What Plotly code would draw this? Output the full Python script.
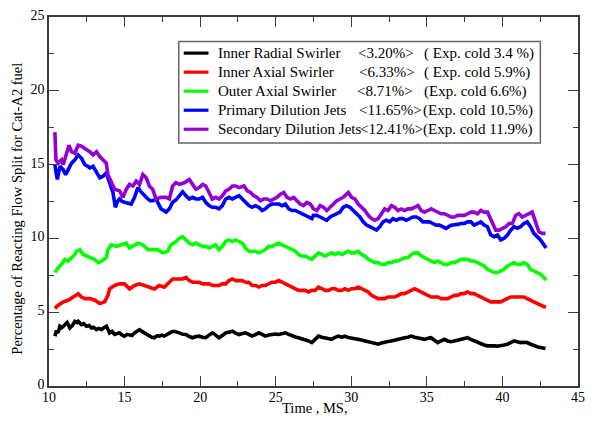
import plotly.graph_objects as go

# ---- Reacting flow split (%) vs. time (ms), Cat-A2 fuel ----
inner_radial_t = [10.39, 10.5, 10.6, 10.72, 10.85, 11.05, 11.2, 11.38, 11.55, 11.71, 11.85, 11.93, 12.05, 12.15, 12.3,
                  12.48, 12.65, 12.81, 12.95, 13.14, 13.3, 13.47, 13.62, 13.8, 13.92, 14.01, 14.17, 14.34, 14.5, 14.67,
                  14.84, 15.0, 15.17, 15.33, 15.5, 15.66, 15.83, 15.99, 16.15, 16.32, 16.48, 16.64, 16.8, 16.97, 17.14,
                  17.3, 17.47, 17.63, 17.8, 17.96, 18.13, 18.29, 18.46, 18.62, 18.84, 19.06, 19.28, 19.5, 19.72, 19.94,
                  20.16, 20.37, 20.59, 20.81, 21.03, 21.25, 21.47, 21.69, 21.91, 22.13, 22.35, 22.57, 22.79, 23.0,
                  23.22, 23.44, 23.66, 23.88, 24.1, 24.32, 24.54, 24.76, 24.98, 25.2, 25.42, 25.64, 25.86, 26.08,
                  26.3, 26.51, 26.73, 26.95, 27.17, 27.39, 27.61, 27.83, 28.05, 28.27, 28.49, 28.71, 28.93, 29.15,
                  29.37, 29.58, 29.8, 30.02, 30.24, 30.46, 30.68, 30.9, 31.12, 31.34, 31.56, 31.78, 32.0, 32.21,
                  32.43, 32.65, 32.87, 33.09, 33.31, 33.53, 33.75, 33.97, 34.19, 34.41, 34.63, 34.85, 35.07, 35.28,
                  35.5, 35.72, 35.94, 36.16, 36.38, 36.6, 36.82, 37.04, 37.26, 37.47, 37.69, 37.91, 38.13, 38.35,
                  38.57, 38.79, 39.01, 39.23, 39.45, 39.67, 39.89, 40.11, 40.33, 40.55, 40.77, 40.98, 41.2, 41.42,
                  41.64, 41.86, 42.08, 42.3, 42.52, 42.74, 42.85]
inner_radial_pct = [3.38, 3.75, 3.6, 4.05, 3.95, 4.16, 4.3, 3.93, 4.1, 4.38, 4.3, 4.38, 4.25, 4.16, 4.22,
                    4.05, 4.1, 3.93, 3.98, 3.82, 3.9, 3.82, 3.95, 4.05, 3.8, 3.6, 3.7, 3.49, 3.55, 3.6,
                    3.45, 3.38, 3.5, 3.49, 3.42, 3.6, 3.7, 3.82, 3.7, 3.6, 3.48, 3.38, 3.3, 3.27, 3.4,
                    3.38, 3.45, 3.38, 3.5, 3.6, 3.68, 3.71, 3.62, 3.6, 3.5, 3.49, 3.35, 3.27, 3.35, 3.38,
                    3.3, 3.27, 3.45, 3.6, 3.45, 3.27, 3.42, 3.6, 3.65, 3.71, 3.58, 3.49, 3.55, 3.6,
                    3.5, 3.38, 3.48, 3.6, 3.5, 3.38, 3.45, 3.49, 3.52, 3.49, 3.55, 3.6, 3.5, 3.38,
                    3.32, 3.27, 3.2, 3.16, 3.05, 2.94, 3.15, 3.38, 3.3, 3.27, 3.2, 3.16, 3.3, 3.38,
                    3.3, 3.38, 3.28, 3.27, 3.2, 3.16, 3.1, 3.05, 3.0, 2.94, 2.9, 2.83, 2.92, 2.94,
                    3.02, 3.05, 3.12, 3.16, 3.2, 3.27, 3.3, 3.38, 3.3, 3.27, 3.2, 3.16, 3.24, 3.27,
                    3.1, 2.94, 3.05, 3.16, 3.05, 3.0, 3.05, 3.1, 3.16, 3.22, 3.27, 3.16, 3.05, 2.94,
                    2.83, 2.78, 2.72, 2.74, 2.72, 2.7, 2.72, 2.78, 2.83, 2.94, 3.05, 3.0, 2.94, 2.96,
                    2.94, 2.83, 2.72, 2.66, 2.61, 2.57, 2.54]

inner_axial_t = [10.39, 10.61, 10.94, 11.27, 11.6, 11.93, 12.15, 12.37, 12.7, 13.03, 13.36, 13.68, 13.9, 14.01,
                 14.34, 14.67, 15.0, 15.33, 15.66, 15.99, 16.32, 16.64, 16.97, 17.3, 17.63, 17.96, 18.18, 18.4,
                 18.62, 18.84, 19.06, 19.28, 19.5, 19.72, 19.94, 20.16, 20.37, 20.59, 20.81, 21.03, 21.25, 21.47,
                 21.69, 21.91, 22.13, 22.35, 22.57, 22.79, 23.0, 23.22, 23.44, 23.66, 23.88, 24.1, 24.32, 24.54,
                 24.76, 24.98, 25.2, 25.42, 25.64, 25.86, 26.08, 26.3, 26.51, 26.73, 26.95, 27.17, 27.39, 27.61,
                 27.83, 28.05, 28.27, 28.49, 28.71, 28.93, 29.15, 29.37, 29.58, 29.8, 30.02, 30.24, 30.46, 30.68,
                 30.9, 31.12, 31.34, 31.56, 31.78, 32.0, 32.21, 32.43, 32.65, 32.87, 33.09, 33.31, 33.53, 33.75,
                 33.97, 34.19, 34.41, 34.63, 34.85, 35.07, 35.28, 35.5, 35.72, 35.94, 36.16, 36.38, 36.6, 36.82,
                 37.04, 37.26, 37.47, 37.69, 37.91, 38.13, 38.35, 38.57, 38.79, 39.01, 39.23, 39.45, 39.67, 39.89,
                 40.11, 40.33, 40.55, 40.77, 40.98, 41.2, 41.42, 41.64, 41.86, 42.08, 42.3, 42.52, 42.74, 42.89]
inner_axial_pct = [5.26, 5.48, 5.7, 5.81, 6.03, 6.25, 6.03, 5.92, 5.92, 5.81, 5.59, 5.7, 6.14, 6.58,
                   6.81, 6.92, 6.92, 6.58, 6.81, 6.92, 6.81, 6.7, 6.58, 6.81, 6.7, 7.03, 7.25, 7.25,
                   7.25, 7.25, 7.36, 7.14, 7.03, 7.03, 7.03, 6.92, 6.92, 6.92, 6.81, 6.81, 6.81, 6.92,
                   6.92, 7.14, 7.25, 7.14, 7.14, 7.14, 7.03, 7.03, 6.81, 6.81, 6.7, 6.81, 6.81, 6.92,
                   7.03, 7.03, 7.14, 7.03, 6.92, 6.81, 6.7, 6.59, 6.48, 6.48, 6.48, 6.37, 6.48, 6.48,
                   6.7, 6.59, 6.48, 6.48, 6.59, 6.59, 6.48, 6.48, 6.59, 6.48, 6.59, 6.59, 6.7, 6.59,
                   6.48, 6.37, 6.14, 6.03, 5.92, 5.92, 5.92, 6.03, 6.03, 6.03, 6.14, 6.26, 6.26, 6.37,
                   6.48, 6.59, 6.48, 6.37, 6.26, 6.14, 6.03, 6.03, 6.03, 5.92, 5.92, 5.92, 6.03, 6.14,
                   6.14, 6.26, 6.26, 6.37, 6.26, 6.26, 6.14, 6.03, 5.92, 5.81, 5.7, 5.7, 5.7, 5.7,
                   5.81, 5.92, 6.03, 6.03, 6.03, 6.03, 6.03, 5.92, 5.81, 5.7, 5.59, 5.48, 5.37, 5.37]

outer_axial_t = [10.39, 10.61, 10.83, 11.05, 11.27, 11.49, 11.71, 11.82, 12.04, 12.26, 12.48, 12.81, 13.03, 13.25,
                 13.47, 13.79, 13.9, 14.12, 14.45, 14.78, 15.11, 15.33, 15.55, 15.88, 16.21, 16.54, 16.86, 17.19,
                 17.52, 17.85, 18.07, 18.4, 18.62, 18.84, 19.06, 19.28, 19.5, 19.72, 19.94, 20.16, 20.37, 20.59,
                 20.81, 21.03, 21.25, 21.47, 21.69, 21.91, 22.13, 22.35, 22.57, 22.79, 23.0, 23.22, 23.44, 23.66,
                 23.88, 24.1, 24.32, 24.54, 24.76, 24.98, 25.2, 25.42, 25.64, 25.86, 26.08, 26.3, 26.51, 26.73,
                 26.95, 27.17, 27.39, 27.61, 27.83, 28.05, 28.27, 28.49, 28.71, 28.93, 29.15, 29.37, 29.58, 29.8,
                 30.02, 30.24, 30.46, 30.68, 30.9, 31.12, 31.34, 31.56, 31.78, 32.0, 32.21, 32.43, 32.65, 32.87,
                 33.09, 33.31, 33.53, 33.75, 33.97, 34.19, 34.41, 34.63, 34.85, 35.07, 35.28, 35.5, 35.72, 35.94,
                 36.16, 36.38, 36.6, 36.82, 37.04, 37.26, 37.47, 37.69, 37.91, 38.13, 38.35, 38.57, 38.79, 39.01,
                 39.23, 39.45, 39.67, 39.89, 40.11, 40.33, 40.55, 40.77, 40.98, 41.2, 41.42, 41.64, 41.86, 42.08,
                 42.3, 42.52, 42.74, 42.89]
outer_axial_pct = [7.69, 8.02, 8.24, 8.57, 8.46, 8.69, 8.91, 9.13, 9.24, 8.91, 8.8, 8.69, 8.57, 8.36,
                   8.46, 8.69, 9.24, 9.57, 9.46, 9.57, 9.68, 9.35, 9.46, 9.68, 9.57, 9.24, 9.24, 9.24,
                   9.02, 9.13, 9.57, 9.79, 10.01, 10.12, 9.9, 9.68, 9.57, 9.68, 9.57, 9.46, 9.46, 9.35,
                   9.46, 9.57, 9.24, 9.46, 9.79, 9.9, 9.79, 9.9, 9.79, 9.68, 9.35, 9.13, 9.13, 9.13,
                   9.02, 9.13, 9.24, 9.46, 9.46, 9.57, 9.68, 9.57, 9.46, 9.35, 9.24, 9.13, 8.91, 8.8,
                   8.8, 8.69, 8.58, 8.8, 9.02, 8.91, 8.8, 8.91, 9.02, 8.91, 9.02, 8.91, 9.02, 9.13,
                   9.02, 9.02, 9.13, 8.91, 8.8, 8.58, 8.47, 8.36, 8.36, 8.24, 8.24, 8.36, 8.36, 8.47,
                   8.47, 8.58, 8.69, 8.69, 8.91, 9.02, 9.02, 8.8, 8.69, 8.58, 8.47, 8.36, 8.47, 8.36,
                   8.24, 8.24, 8.36, 8.36, 8.47, 8.58, 8.58, 8.58, 8.47, 8.47, 8.36, 8.24, 8.13, 7.91,
                   7.8, 7.69, 7.69, 7.8, 7.91, 8.13, 8.24, 8.36, 8.24, 8.24, 8.36, 8.24, 7.91, 7.8,
                   7.69, 7.58, 7.36, 7.18]

primary_jets_t = [10.39, 10.55, 10.72, 10.94, 11.1, 11.27, 11.49, 11.71, 11.93, 12.15, 12.37, 12.55, 12.7, 12.92,
                  13.14, 13.36, 13.57, 13.79, 13.9, 14.01, 14.12, 14.23, 14.39, 14.53, 14.67, 14.84, 15.0, 15.22,
                  15.44, 15.66, 15.88, 16.05, 16.21, 16.38, 16.54, 16.7, 16.86, 17.08, 17.25, 17.41, 17.58, 17.74,
                  17.96, 18.18, 18.4, 18.62, 18.84, 19.06, 19.28, 19.5, 19.72, 19.94, 20.16, 20.37, 20.59, 20.81,
                  21.03, 21.25, 21.47, 21.69, 21.91, 22.13, 22.35, 22.57, 22.79, 23.0, 23.22, 23.44, 23.66, 23.88,
                  24.1, 24.32, 24.54, 24.76, 24.98, 25.2, 25.42, 25.64, 25.86, 26.08, 26.3, 26.51, 26.73, 26.95,
                  27.17, 27.39, 27.5, 27.72, 27.94, 28.16, 28.38, 28.6, 28.82, 29.04, 29.25, 29.47, 29.69, 29.91,
                  30.13, 30.35, 30.57, 30.79, 31.01, 31.23, 31.45, 31.67, 31.89, 32.1, 32.32, 32.54, 32.76, 32.98,
                  33.2, 33.42, 33.64, 33.86, 34.08, 34.3, 34.52, 34.74, 34.96, 35.18, 35.39, 35.61, 35.83, 36.05,
                  36.27, 36.6, 36.82, 37.04, 37.26, 37.48, 37.7, 37.92, 38.13, 38.35, 38.57, 38.79, 39.01, 39.23,
                  39.45, 39.67, 39.89, 40.11, 40.33, 40.55, 40.77, 40.98, 41.2, 41.42, 41.64, 41.86, 42.08, 42.3,
                  42.52, 42.74, 42.89]
primary_jets_pct = [14.99, 13.99, 14.88, 14.66, 14.32, 14.66, 15.1, 15.32, 15.65, 15.43, 14.99, 14.9, 14.77, 14.88,
                    14.54, 14.1, 14.21, 14.43, 14.1, 13.77, 13.4, 13.11, 12.11, 12.5, 12.67, 12.5, 12.45, 12.4,
                    12.33, 12.78, 13.44, 13.2, 13.0, 12.8, 12.67, 12.55, 12.55, 12.67, 12.3, 12.0, 11.9, 11.78,
                    12.0, 12.45, 12.6, 12.9, 13.15, 12.89, 12.67, 12.78, 12.67, 12.67, 12.78, 12.44, 12.22, 12.11,
                    12.11, 12.0, 12.22, 12.67, 12.78, 12.67, 12.78, 12.89, 12.67, 12.44, 12.22, 12.11, 12.22, 12.11,
                    11.89, 12.0, 12.22, 12.33, 12.33, 12.33, 12.22, 12.33, 12.0, 11.89, 11.89, 11.78, 11.67, 11.56,
                    11.45, 11.34, 11.56, 11.56, 11.45, 11.34, 11.23, 11.45, 11.56, 11.67, 11.78, 12.11, 12.22, 12.11,
                    11.89, 11.67, 11.45, 11.12, 10.9, 10.79, 10.68, 10.56, 10.79, 11.12, 11.23, 11.12, 11.34, 11.23,
                    11.34, 11.34, 11.23, 11.34, 11.45, 11.45, 11.34, 11.12, 11.12, 11.12, 11.01, 10.9, 10.9, 10.79,
                    10.68, 10.9, 10.9, 10.95, 11.01, 11.01, 11.12, 11.12, 10.9, 11.01, 11.12, 10.9, 10.79, 10.23,
                    10.12, 10.23, 9.9, 10.01, 10.23, 10.56, 10.79, 10.68, 10.79, 11.01, 11.12, 10.79, 10.34, 10.12,
                    9.9, 9.57, 9.35]

secondary_jets_t = [10.39, 10.46, 10.61, 10.83, 10.94, 11.16, 11.32, 11.49, 11.71, 11.93, 12.15, 12.37, 12.7, 12.92,
                    13.14, 13.36, 13.57, 13.79, 13.9, 14.12, 14.34, 14.67, 14.89, 15.11, 15.33, 15.55, 15.77, 15.99,
                    16.21, 16.43, 16.64, 16.86, 17.08, 17.41, 17.74, 17.96, 18.18, 18.4, 18.62, 18.95, 19.28, 19.5,
                    19.72, 19.94, 20.16, 20.37, 20.59, 20.81, 21.03, 21.25, 21.47, 21.69, 21.91, 22.13, 22.35, 22.57,
                    22.9, 23.12, 23.33, 23.55, 23.77, 23.99, 24.21, 24.43, 24.65, 24.87, 25.09, 25.31, 25.53, 25.75,
                    25.97, 26.19, 26.4, 26.62, 26.84, 27.06, 27.28, 27.5, 27.72, 27.94, 28.16, 28.38, 28.6, 28.82,
                    29.04, 29.25, 29.47, 29.69, 29.8, 30.02, 30.24, 30.46, 30.68, 30.9, 31.12, 31.34, 31.56, 31.78,
                    32.0, 32.21, 32.43, 32.65, 32.87, 33.09, 33.31, 33.53, 33.75, 33.97, 34.19, 34.41, 34.63, 34.85,
                    35.07, 35.29, 35.5, 35.72, 35.94, 36.16, 36.38, 36.6, 36.82, 37.04, 37.26, 37.48, 37.7, 37.92,
                    38.13, 38.35, 38.57, 38.79, 39.01, 39.12, 39.34, 39.56, 39.78, 40.0, 40.22, 40.44, 40.66, 40.88,
                    41.1, 41.31, 41.53, 41.75, 41.97, 42.19, 42.41, 42.63, 42.85]
secondary_jets_pct = [17.2, 15.32, 15.1, 15.32, 14.99, 15.65, 16.31, 15.87, 15.76, 16.31, 16.25, 16.09, 15.87, 15.65,
                      15.87, 15.54, 15.32, 15.1, 14.32, 13.88, 13.33, 13.22, 12.78, 13.33, 13.66, 13.55, 13.88, 13.66,
                      14.32, 14.1, 13.55, 13.33, 12.67, 12.78, 12.78, 12.67, 13.55, 13.77, 13.66, 13.77, 13.99, 13.66,
                      13.33, 13.44, 13.66, 13.55, 13.11, 12.67, 12.78, 12.67, 12.89, 13.22, 13.33, 13.55, 13.55, 13.44,
                      13.55, 13.22, 13.11, 12.89, 12.78, 12.55, 12.67, 12.67, 12.55, 12.67, 12.78, 13.0, 13.11, 12.78,
                      12.67, 12.78, 12.55, 12.33, 12.22, 12.44, 12.33, 12.0, 11.89, 12.22, 12.11, 11.89, 12.11, 12.33,
                      12.55, 12.67, 12.78, 13.0, 13.11, 12.78, 12.67, 12.33, 12.11, 11.89, 11.56, 11.34, 11.23, 11.34,
                      11.67, 12.0, 11.89, 12.22, 12.11, 11.89, 12.0, 11.89, 12.0, 12.0, 12.11, 12.22, 11.89, 11.78,
                      11.89, 12.0, 11.89, 11.78, 11.67, 11.67, 11.56, 11.45, 11.45, 11.56, 11.56, 11.56, 11.67, 11.78,
                      11.78, 11.67, 11.89, 11.78, 11.78, 11.56, 11.12, 10.56, 10.56, 10.68, 10.79, 11.01, 11.01, 11.56,
                      11.67, 11.45, 11.56, 11.67, 11.78, 11.12, 10.45, 10.34, 10.34]

series_names = ["Inner Radial Swirler", "Inner Axial Swirler", "Outer Axial Swirler",
                "Primary Dilution Jets", "Secondary Dilution Jets"]
mean_labels = ["<3.20%>", "<6.33%>", "<8.71%>", "<11.65%>", "<12.41%>"]
exp_labels = ["( Exp. cold 3.4 %)", "( Exp. cold 5.9%)", "(Exp. cold 6.6%)",
              "(Exp. cold 10.5%)", "(Exp. cold 11.9%)"]
series_colors = ["#000000", "#ff0000", "#00ff00", "#0000ff", "#9400d3"]
series_t = [inner_radial_t, inner_axial_t, outer_axial_t, primary_jets_t, secondary_jets_t]
series_v = [inner_radial_pct, inner_axial_pct, outer_axial_pct, primary_jets_pct, secondary_jets_pct]

FONT = "Liberation Serif"
AXIS_COLOR = "#3c3c3c"

# plot area in pixels (for placing the hand-drawn legend box)
W, H = 593, 423
ML, MR, MT, MB = 49, 10, 8, 37
PW, PH = W - ML - MR, H - MT - MB


def px_x(px):
    return (px - ML) / PW


def px_y(py):
    return (H - MB - py) / PH


fig = go.Figure()
for t, v, name, color in zip(series_t, series_v, series_names, series_colors):
    fig.add_trace(go.Scatter(x=t, y=v, mode="lines", name=name, showlegend=False,
                             line=dict(color=color, width=3.6)))

shapes = [dict(type="rect", xref="paper", yref="paper",
               x0=px_x(180), x1=px_x(545), y0=px_y(137), y1=px_y(33),
               line=dict(color="#666666", width=1.5), fillcolor="white", layer="above")]
annotations = []
row_y = [45, 64.5, 84, 103.5, 123]
col2_x = [361, 362, 360, 362, 362.5]
col3_x = [428, 428, 428, 427, 427]
for i, color in enumerate(series_colors):
    yp = px_y(row_y[i])
    shapes.append(dict(type="line", xref="paper", yref="paper", x0=px_x(185), x1=px_x(210),
                       y0=yp, y1=yp, line=dict(color=color, width=3.2), layer="above"))
    for txt, xpx in ((series_names[i], 220), (mean_labels[i], col2_x[i]), (exp_labels[i], col3_x[i])):
        annotations.append(dict(xref="paper", yref="paper", x=px_x(xpx), y=yp, text=txt,
                                showarrow=False, xanchor="left", yanchor="middle",
                                borderpad=0, borderwidth=0,
                                font=dict(family=FONT, size=15, color="black")))

annotations.append(dict(xref="paper", yref="paper", x=px_x(17), y=px_y(204),
                        text="Percentage of Reacting Flow Split for Cat-A2 fuel", textangle=-90,
                        showarrow=False, xanchor="center", yanchor="middle",
                        font=dict(family=FONT, size=14.5, color="black")))
annotations.append(dict(xref="paper", yref="paper", x=px_x(318), y=px_y(409),
                        text="Time , MS,", showarrow=False, xanchor="center", yanchor="middle",
                        font=dict(family=FONT, size=14.5, color="black")))

axis_common = dict(showline=True, linecolor=AXIS_COLOR, linewidth=1.5, mirror="ticks",
                   ticks="inside", ticklen=10, tickwidth=1.2, tickcolor=AXIS_COLOR,
                   showgrid=False, zeroline=False, ticklabeloverflow="allow",
                   tickfont=dict(family=FONT, size=14, color="black"))

fig.update_layout(
    width=W, height=H,
    margin=dict(l=ML, r=MR, t=MT, b=MB),
    paper_bgcolor="white", plot_bgcolor="white",
    font=dict(family=FONT),
    shapes=shapes, annotations=annotations,
    xaxis=dict(range=[10, 45], dtick=5, tick0=10, ticklabelstandoff=-3,
               minor=dict(ticks="inside", ticklen=5, dtick=2.5, tickcolor=AXIS_COLOR, tickwidth=1.2),
               **axis_common),
    yaxis=dict(range=[0, 25], dtick=5, tick0=0, ticklabelshift=-2,
               minor=dict(ticks="inside", ticklen=5, dtick=2.5, tickcolor=AXIS_COLOR, tickwidth=1.2),
               **axis_common),
)

fig.write_html("out.html")
